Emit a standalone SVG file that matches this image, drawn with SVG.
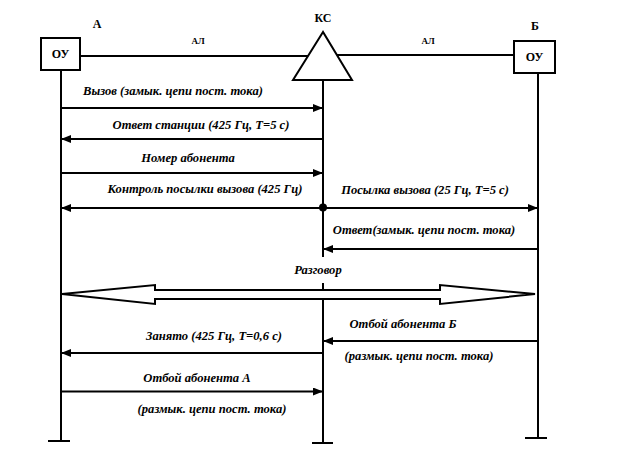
<svg xmlns="http://www.w3.org/2000/svg" width="644" height="451" viewBox="0 0 644 451">
<style>
.ln{stroke:#000;stroke-width:2;fill:none}
.box{stroke:#000;stroke-width:2;fill:#fff}
.hd{font-family:"Liberation Serif","Times New Roman",serif;font-weight:bold;font-size:12px;fill:#000;text-anchor:middle}
.al{font-family:"Liberation Serif","Times New Roman",serif;font-weight:bold;font-size:9px;fill:#000;text-anchor:middle}
.lb{font-family:"Liberation Serif","Times New Roman",serif;font-weight:bold;font-style:italic;font-size:12.6px;fill:#000;text-anchor:middle}
.arr{stroke:#000;stroke-width:2;fill:none;marker-end:url(#ah)}
</style>
<defs>
<marker id="ah" markerUnits="userSpaceOnUse" markerWidth="10" markerHeight="8" refX="10" refY="4" orient="auto">
<path d="M0,0 L10,4 L0,8 z" fill="#000"/>
</marker>
</defs>
<rect width="644" height="451" fill="#fff"/>
<g id="lifelines">
<path class="ln" d="M61,70 V441 M48,441 H70"/>
<path class="ln" d="M323,80 V257 M323,283 V443 M312,443 H333"/>
<path class="ln" d="M538,73 V438 M525,438 H547"/>
</g>
<g id="lines">
<path class="ln" d="M80,56 H310"/>
<text class="al" x="198" y="44">АЛ</text>
<path class="ln" d="M336,55 H514"/>
<text class="al" x="428" y="44">АЛ</text>
</g>
<g id="node-A">
<rect class="box" x="41" y="38" width="39" height="32"/>
<text class="hd" x="60.5" y="58">ОУ</text>
<text class="hd" x="97" y="28">А</text>
</g>
<g id="node-KS">
<polygon class="box" points="323,32 293,80 352,80"/>
<text class="hd" x="323" y="22">КС</text>
</g>
<g id="node-B">
<rect class="box" x="514" y="41" width="41" height="32"/>
<text class="hd" x="534.5" y="61">ОУ</text>
<text class="hd" x="535" y="30">Б</text>
</g>
<g id="connectors">
<path class="arr" d="M61,108 H323"/>
<text class="lb" x="173" y="95">Вызов (замык. цепи пост. тока)</text>
<path class="arr" d="M323,139 H61"/>
<text class="lb" x="201" y="129">Ответ станции (425 Гц, Т=5 с)</text>
<path class="arr" d="M61,173 H323"/>
<text class="lb" x="188" y="162">Номер абонента</text>
<path class="arr" d="M323,208 H61"/>
<text class="lb" x="205" y="193">Контроль посылки вызова (425 Гц)</text>
<path class="arr" d="M323,208 H538"/>
<text class="lb" x="425" y="194">Посылка вызова (25 Гц, Т=5 с)</text>
<circle cx="323" cy="207.5" r="4" fill="#000"/>
<path class="arr" d="M538,249 H323"/>
<text class="lb" x="424" y="234">Ответ(замык. цепи пост. тока)</text>
<polygon points="62,294 155,285 155,290 440,290 440,285 535,294 440,304 440,299 155,299 155,304" fill="#fff" stroke="#000" stroke-width="2" stroke-linejoin="miter"/>
<text class="lb" x="318" y="274">Разговор</text>
<path class="arr" d="M538,341 H323"/>
<text class="lb" x="403" y="328">Отбой абонента Б</text>
<text class="lb" x="419" y="360">(размык. цепи пост. тока)</text>
<path class="arr" d="M323,353 H61"/>
<text class="lb" x="214" y="340">Занято (425 Гц, Т=0,6 с)</text>
<path class="arr" d="M61,391.5 H323"/>
<text class="lb" x="197" y="382">Отбой абонента А</text>
<text class="lb" x="212" y="413">(размык. цепи пост. тока)</text>
</g>
</svg>
